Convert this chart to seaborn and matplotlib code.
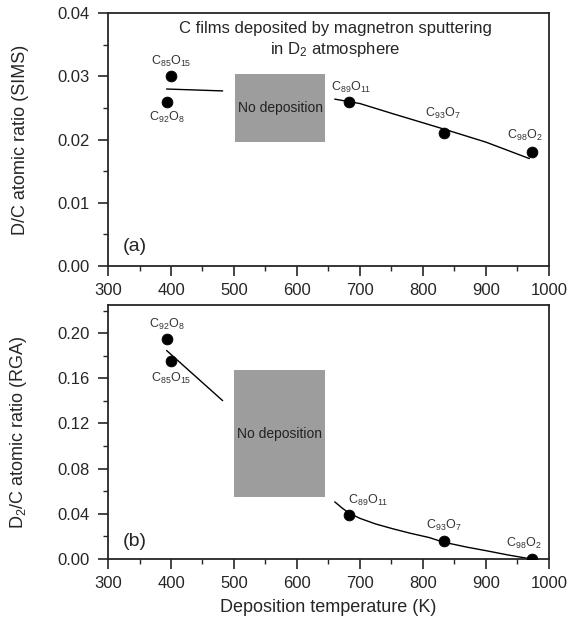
import numpy as np
import pandas as pd
import matplotlib
matplotlib.use('Agg')
import matplotlib.pyplot as plt
from matplotlib.patches import Rectangle
from matplotlib.ticker import MultipleLocator, FormatStrFormatter
import seaborn as sns

sns.set_style('ticks')
plt.rcParams['font.family'] = ['Liberation Sans', 'DejaVu Sans']
plt.rcParams['mathtext.fontset'] = 'custom'
plt.rcParams['mathtext.rm'] = 'Liberation Sans'
plt.rcParams['mathtext.it'] = 'Liberation Sans'

# measured points
temps_a = [400, 393, 683, 833, 973]
ratio_sims = [0.0300, 0.0260, 0.0260, 0.0210, 0.0180]
labels_a = ['C$_{85}$O$_{15}$', 'C$_{92}$O$_{8}$', 'C$_{89}$O$_{11}$', 'C$_{93}$O$_{7}$', 'C$_{98}$O$_{2}$']
label_pos_a = [(400, 0.0323), (393, 0.0235), (686, 0.0282), (832, 0.0241), (961, 0.0207)]

temps_b = [393, 400, 683, 833, 973]
ratio_rga = [0.195, 0.175, 0.039, 0.016, 0.0003]
labels_b = ['C$_{92}$O$_{8}$', 'C$_{85}$O$_{15}$', 'C$_{89}$O$_{11}$', 'C$_{93}$O$_{7}$', 'C$_{98}$O$_{2}$']
label_pos_b = [(393, 0.2074), (400, 0.160), (713, 0.052), (833, 0.030), (960, 0.0142)]

# guide lines
guide_a_left_x = [393, 482]
guide_a_left_y = [0.0280, 0.0277]
guide_a_right_x = [660, 700, 752, 832, 900, 969]
guide_a_right_y = [0.0264, 0.0257, 0.0241, 0.0217, 0.0196, 0.0170]

guide_b_left_x = [393, 482]
guide_b_left_y = [0.1846, 0.1402]
guide_b_right_x = [660, 672, 683, 700, 725, 752, 780, 810, 832, 870, 900, 935, 969]
guide_b_right_y = [0.0506, 0.0450, 0.0405, 0.0360, 0.0310, 0.0268, 0.0228, 0.0190, 0.0150, 0.0105, 0.0074, 0.0036, 0.0003]

# no deposition zones (x0, x1, y0, y1)
gap_a = (502, 645, 0.0196, 0.0303)
gap_b = (500, 644, 0.0550, 0.1669)

fig = plt.figure(figsize=(5.7, 6.26), dpi=100)
ax1 = fig.add_axes([0.1895, 0.575, 0.7735, 0.404])
ax2 = fig.add_axes([0.1895, 0.107, 0.7735, 0.406])


def draw_panel(ax, tx, ty, labels, lpos, guides, gap, tag, tag_y):
    for gx, gy in guides:
        sns.lineplot(x=gx, y=gy, ax=ax, color='black', lw=1.0, sort=False, estimator=None)
    sns.scatterplot(x=tx, y=ty, ax=ax, color='black', s=60, edgecolor='black', zorder=5)
    x0, x1, y0, y1 = gap
    ax.add_patch(Rectangle((x0, y0), x1 - x0, y1 - y0, facecolor='#9d9d9d', edgecolor='none', zorder=1))
    ax.text((x0 + x1) / 2, (y0 + y1) / 2, 'No deposition', ha='center', va='center', fontsize=10, color='#222222', zorder=2)
    for lab, (lx, ly) in zip(labels, lpos):
        ax.text(lx, ly, lab, ha='center', va='center', fontsize=9, color='#333333')
    ax.text(323, tag_y, tag, fontsize=14, va='center', ha='left')
    ax.set_xlim(300, 1000)
    ax.xaxis.set_major_locator(MultipleLocator(100))
    ax.xaxis.set_minor_locator(MultipleLocator(50))
    for s in ax.spines.values():
        s.set_linewidth(1.3)
    ax.tick_params(which='major', direction='out', length=7, width=1.2, labelsize=12, top=False, right=False)
    ax.tick_params(which='minor', direction='out', length=3.5, width=1.0, top=False, right=False)
    ax.tick_params(axis='y', which='major', pad=6)
    ax.tick_params(axis='x', which='major', pad=5)
    ax.yaxis.set_major_formatter(FormatStrFormatter('%.2f'))


draw_panel(ax1, temps_a, ratio_sims, labels_a, label_pos_a,
           [(guide_a_left_x, guide_a_left_y), (guide_a_right_x, guide_a_right_y)], gap_a, '(a)', 0.0031)
ax1.set_ylim(0, 0.04)
ax1.yaxis.set_major_locator(MultipleLocator(0.01))
ax1.yaxis.set_minor_locator(MultipleLocator(0.005))
ax1.set_ylabel('D/C atomic ratio (SIMS)', fontsize=13)
ax1.text(661, 0.0376, 'C films deposited by magnetron sputtering', ha='center', va='center', fontsize=12)
ax1.text(661, 0.0343, 'in D$_2$ atmosphere', ha='center', va='center', fontsize=12)

draw_panel(ax2, temps_b, ratio_rga, labels_b, label_pos_b,
           [(guide_b_left_x, guide_b_left_y), (guide_b_right_x, guide_b_right_y)], gap_b, '(b)', 0.0155)
ax2.set_ylim(0, 0.225)
ax2.yaxis.set_major_locator(MultipleLocator(0.04))
ax2.yaxis.set_minor_locator(MultipleLocator(0.02))
ax2.set_ylabel('D$_2$/C atomic ratio (RGA)', fontsize=13)
ax2.set_xlabel('Deposition temperature (K)', fontsize=13, labelpad=6)

for ax in (ax1, ax2):
    ax.yaxis.set_label_coords(-0.18, 0.5)

fig.savefig('out.png', dpi=100)
